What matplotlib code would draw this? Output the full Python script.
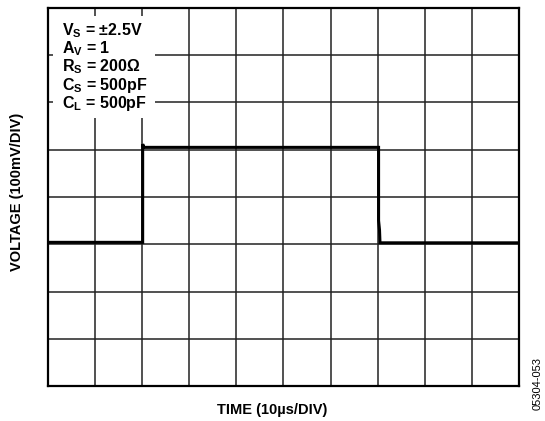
import matplotlib
matplotlib.use("Agg")
import matplotlib.pyplot as plt

plt.rcParams['font.family'] = ['Liberation Sans', 'DejaVu Sans']
plt.rcParams['mathtext.fontset'] = 'custom'
plt.rcParams['mathtext.rm'] = 'Liberation Sans:bold'
plt.rcParams['mathtext.it'] = 'Liberation Sans:bold'
plt.rcParams['mathtext.bf'] = 'Liberation Sans:bold'

# scope trace, time in us, voltage in mV (100mV/div, 10us/div)
time_us = [0, 20.1, 20.1, 20.3, 20.4, 70.1, 70.2, 70.2, 70.4, 70.5, 100]
volt_mv = [304, 304, 512, 506, 505, 505, 505, 350, 330, 303, 303]

legend_lines = [r"V$_{S}$ = ±2.5V", r"A$_{V}$ = 1", r"R$_{S}$ = 200Ω",
                r"C$_{S}$ = 500pF", r"C$_{L}$ = 500pF"]

fig = plt.figure(figsize=(5.45, 4.21), dpi=100)
ax = fig.add_axes([0.0881, 0.0831, 0.864, 0.898])

ax.set_xlim(0, 100)
ax.set_ylim(0, 800)
ax.set_xticks(range(0, 101, 10))
ax.set_yticks(range(0, 801, 100))
ax.tick_params(length=0, labelbottom=False, labelleft=False)
ax.grid(True, color='#222222', linewidth=1.1)
for s in ax.spines.values():
    s.set_linewidth(1.6)
    s.set_color('black')

ax.plot(time_us, volt_mv, color='black', linewidth=2.2, zorder=3,
        solid_joinstyle='miter')

# white box behind the conditions text
ax.add_patch(plt.Rectangle((1.1, 567), 21.7, 216, facecolor='white',
                           edgecolor='none', zorder=2.5))
for i, s in enumerate(legend_lines):
    ax.text(3.0, 752 - i * 38.5, s, fontsize=11.5, fontweight='bold',
            va='center', ha='left', zorder=4)

fig.text(0.031, 0.545, "VOLTAGE (100mV/DIV)", rotation=90, fontsize=10.5,
         fontweight='bold', ha='center', va='center')
fig.text(0.5, 0.026, "TIME (10µs/DIV)", fontsize=10.5, fontweight='bold',
         ha='center', va='center')
fig.text(0.986, 0.09, "05304-053", rotation=90, fontsize=8,
         ha='center', va='center')

fig.savefig("out.png", dpi=100)
